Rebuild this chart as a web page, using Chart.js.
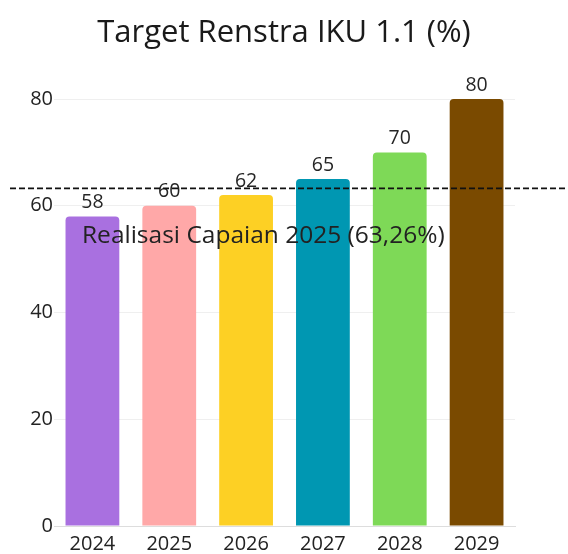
<!DOCTYPE html>
<html>
<head>
<meta charset="utf-8">
<script src="https://cdn.jsdelivr.net/npm/chart.js@4.4.1/dist/chart.umd.min.js"></script>
<style>
html,body{margin:0;padding:0;background:#fff;}
#wrap{width:568px;height:554px;}
</style>
</head>
<body>
<div id="wrap"><canvas id="c" width="568" height="554"></canvas></div>
<script>
const categories = ["2024", "2025", "2026", "2027", "2028", "2029"];
const targetValues = [58, 60, 62, 65, 70, 80];
const barColors = ["#a970e0", "#ffa8a8", "#fdd024", "#0097b2", "#7ed957", "#7a4a00"];
const yTicks = [0, 20, 40, 60, 80];
const realisasiValue = 63.26;
const realisasiLabel = "Realisasi Capaian 2025 (63,26%)";
const titleText = "Target Renstra IKU 1.1 (%)";

const FONT = "'Open Sans', 'Noto Sans', sans-serif";

const valueLabels = {
  id: 'valueLabels',
  afterDatasetsDraw(chart) {
    const ctx = chart.ctx;
    const meta = chart.getDatasetMeta(0);
    ctx.save();
    ctx.font = "19.5px " + FONT;
    ctx.fillStyle = "#262626";
    ctx.textAlign = "center";
    ctx.textBaseline = "middle";
    meta.data.forEach((bar, i) => {
      ctx.fillText(String(targetValues[i]), bar.x, bar.y - 14);
    });
    ctx.restore();
  }
};

const titlePlugin = {
  id: 'titlePlugin',
  afterDraw(chart) {
    const ctx = chart.ctx;
    ctx.save();
    ctx.font = "31px " + FONT;
    ctx.fillStyle = "#1a1a1a";
    ctx.textAlign = "center";
    ctx.textBaseline = "middle";
    ctx.fillText(titleText, chart.width / 2, 33);
    ctx.restore();
  }
};

const refLine = {
  id: 'refLine',
  afterDraw(chart) {
    const ctx = chart.ctx;
    const y = chart.scales.y.getPixelForValue(realisasiValue);
    ctx.save();
    ctx.strokeStyle = "#111";
    ctx.lineWidth = 1.8;
    ctx.setLineDash([6, 3]);
    ctx.beginPath();
    ctx.moveTo(10, y);
    ctx.lineTo(chart.width, y);
    ctx.stroke();
    ctx.setLineDash([]);
    ctx.font = "24.5px " + FONT;
    ctx.fillStyle = "#222";
    ctx.textAlign = "left";
    ctx.textBaseline = "middle";
    ctx.fillText(realisasiLabel, chart.chartArea.left + 28, y + 48);
    ctx.restore();
  }
};

new Chart(document.getElementById('c'), {
  type: 'bar',
  data: {
    labels: categories,
    datasets: [{
      data: targetValues,
      backgroundColor: barColors,
      borderRadius: {topLeft: 4, topRight: 4},
      borderSkipped: 'bottom',
      barPercentage: 0.7,
      categoryPercentage: 1.0
    }]
  },
  options: {
    responsive: false,
    animation: false,
    devicePixelRatio: 1,
    layout: { padding: { left: 0, right: 53, top: 99, bottom: 0 } },
    plugins: {
      legend: { display: false },
      tooltip: { enabled: false },
      title: { display: false }
    },
    scales: {
      x: {
        afterFit(s) { s.height = 28; },
        grid: { display: false, drawTicks: false },
        border: { display: true, color: "#ddd" },
        ticks: { color: "#222", font: { family: FONT, size: 20 }, padding: 6 }
      },
      y: {
        min: 0, max: 80,
        afterFit(s) { s.width = 54; },
        afterBuildTicks(s) { s.ticks = yTicks.map(v => ({ value: v })); },
        grid: { color: "#efefef", drawTicks: false },
        border: { display: false },
        ticks: { color: "#222", font: { family: FONT, size: 20 }, padding: 1 }
      }
    }
  },
  plugins: [valueLabels, refLine, titlePlugin]
});
</script>
</body>
</html>
